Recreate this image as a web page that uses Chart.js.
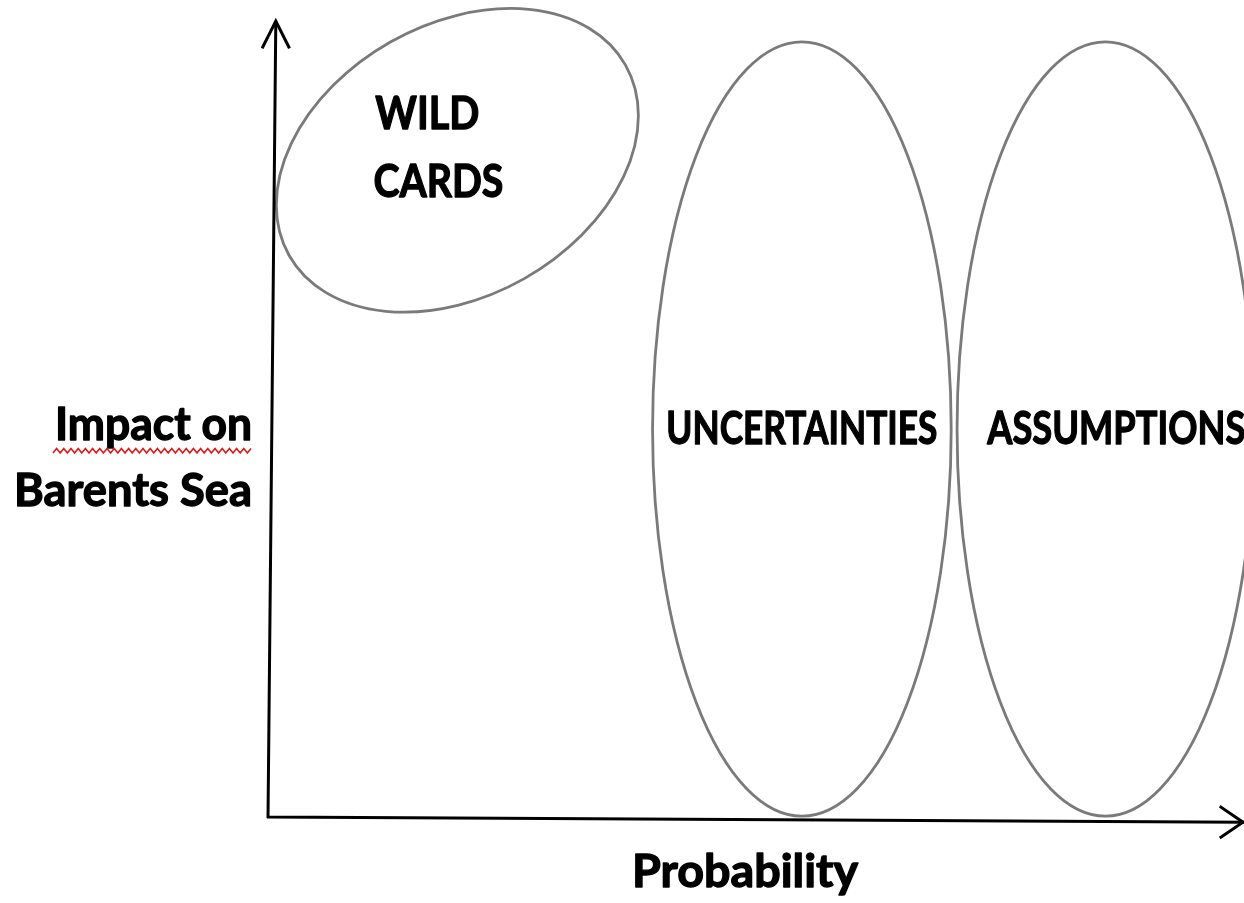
<!DOCTYPE html>
<html>
<head>
<meta charset="utf-8">
<title>Wild cards, uncertainties, assumptions</title>
<script src="https://cdn.jsdelivr.net/npm/chart.js@4.4.1/dist/chart.umd.min.js"></script>
<style>
  html, body { margin: 0; padding: 0; background: #fff; }
  #wrap { position: relative; width: 1244px; height: 903px; }
</style>
</head>
<body>
<div id="wrap"><canvas id="diagram" width="1244" height="903"></canvas></div>
<script>
// ============================================
// DATA (probability on x, impact on y, 0..100)
// ============================================

const groupNames  = ['WILD CARDS', 'UNCERTAINTIES', 'ASSUMPTIONS'];
const groupLines  = [['WILD', 'CARDS'], ['UNCERTAINTIES'], ['ASSUMPTIONS']];
const centerProb  = [19.4, 54.7, 85.8];
const centerImp   = [82.6, 48.8, 48.8];
const spreadProb  = [19.8, 15.3, 15.2];
const spreadImp   = [17.1, 48.7, 48.7];
const tiltDeg     = [-29.5, 0, 0];

// where each group's label sits (data units)
const labelProb   = [[11.0, 10.8], [54.7], [73.7]];
const labelImp    = [[86.5, 78.0], [46.9], [46.9]];
const labelAlign  = ['left', 'center', 'left'];

// axis ends (the hand drawn axes lean a little)
const xAxisEnd    = { x: 100, y: -0.65 };
const yAxisEnd    = { x: 0.8, y: 100 };

const xTitle = 'Probability';
const yTitle = ['Impact on', 'Barents Sea'];

// ============================================
// STYLE
// ============================================

const FONT      = 'Lato, "Open Sans", "DejaVu Sans", sans-serif';
const INK       = '#000000';
const RING      = '#7a7a7a';

// target widths so the (narrower) original face is matched
const labelWidths = [[104, 130], [271], [258]];

function drawText(ctx, text, x, y, size, align, width) {
  ctx.save();
  ctx.font = `bold ${size}px ${FONT}`;
  ctx.fillStyle = INK;
  ctx.strokeStyle = INK;
  ctx.lineWidth = 1.3;
  ctx.lineJoin = 'round';
  ctx.textBaseline = 'alphabetic';
  ctx.textAlign = align;
  const w = ctx.measureText(text).width;
  ctx.translate(x, y);
  if (width) ctx.scale(width / w, 1);
  ctx.fillText(text, 0, 0);
  ctx.strokeText(text, 0, 0);   // Calibri bold reads heavier than Lato bold
  ctx.restore();
}

function squiggle(ctx, x0, x1, y) {
  ctx.save();
  ctx.strokeStyle = '#e01818';
  ctx.lineWidth = 1.6;
  ctx.beginPath();
  let up = true;
  ctx.moveTo(x0, y);
  for (let x = x0 + 3.6; x <= x1; x += 3.6) {
    ctx.lineTo(x, up ? y - 4.5 : y);
    up = !up;
  }
  ctx.stroke();
  ctx.restore();
}

const diagramPlugin = {
  id: 'diagram',
  afterDraw(chart) {
    const { ctx, scales: { x, y } } = chart;
    const px = v => x.getPixelForValue(v);
    const py = v => y.getPixelForValue(v);

    // ellipses
    groupNames.forEach((name, i) => {
      const cx = px(centerProb[i]);
      const cy = py(centerImp[i]);
      const rx = Math.abs(px(centerProb[i] + spreadProb[i]) - cx);
      const ry = Math.abs(py(centerImp[i] + spreadImp[i]) - cy);
      ctx.save();
      ctx.strokeStyle = RING;
      ctx.lineWidth = 2.8;
      ctx.beginPath();
      ctx.ellipse(cx, cy, rx, ry, tiltDeg[i] * Math.PI / 180, 0, Math.PI * 2);
      ctx.stroke();
      ctx.restore();

      groupLines[i].forEach((line, j) => {
        drawText(ctx, line, px(labelProb[i][j]), py(labelImp[i][j]), 45, labelAlign[i], labelWidths[i][j]);
      });
    });

    // axes
    const ox = px(0), oy = py(0);
    ctx.save();
    ctx.strokeStyle = INK;
    ctx.lineWidth = 3;
    ctx.lineCap = 'butt';
    ctx.beginPath();
    ctx.moveTo(ox, oy + 1);
    ctx.lineTo(px(yAxisEnd.x), py(yAxisEnd.y) - 1);
    ctx.moveTo(ox - 1, oy);
    ctx.lineTo(px(xAxisEnd.x), py(xAxisEnd.y));
    ctx.stroke();

    // arrow heads
    const tx = px(yAxisEnd.x), ty = py(yAxisEnd.y) - 1;
    ctx.lineCap = 'square';
    ctx.beginPath();
    ctx.moveTo(tx - 13, ty + 26); ctx.lineTo(tx, ty); ctx.lineTo(tx + 13, ty + 26);
    const ex = px(xAxisEnd.x) - 1, ey = py(xAxisEnd.y);
    ctx.moveTo(ex - 22, ey - 15); ctx.lineTo(ex, ey); ctx.lineTo(ex - 22, ey + 15);
    ctx.stroke();
    ctx.restore();

    // axis titles
    drawText(ctx, yTitle[0], 252, 440, 45, 'right', 197);
    squiggle(ctx, 53, 252, 453);
    drawText(ctx, yTitle[1], 252, 506, 45, 'right', 238);
    drawText(ctx, xTitle, 632, 887, 46, 'left', 226);
  }
};

new Chart(document.getElementById('diagram'), {
  type: 'scatter',
  data: {
    datasets: [{
      label: 'groups',
      data: centerProb.map((v, i) => ({ x: v, y: centerImp[i] })),
      pointRadius: 0,
      pointHoverRadius: 0,
    }],
  },
  options: {
    responsive: false,
    animation: false,
    devicePixelRatio: 1,
    layout: { padding: { left: 268, top: 22, right: 0, bottom: 86 } },
    plugins: {
      legend:  { display: false },
      tooltip: { enabled: false },
    },
    scales: {
      x: { type: 'linear', min: 0, max: 100, display: false },
      y: { type: 'linear', min: 0, max: 100, display: false },
    },
  },
  plugins: [diagramPlugin],
});
</script>
</body>
</html>
